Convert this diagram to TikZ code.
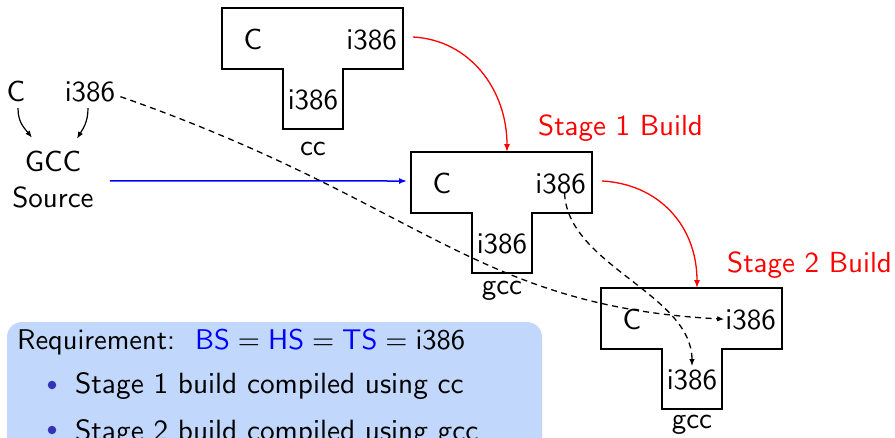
\documentclass[tikz,border=0pt]{standalone}
\usetikzlibrary{arrows.meta}
\definecolor{blockbg}{RGB}{193,216,252}
\definecolor{bulcol}{RGB}{51,51,179}
\font\fmain=cmss10 at 29pt
\font\fbul=cmss10 at 29.3pt
\font\freq=cmss10 at 28.5pt
\font\freqeq=cmr10 at 28.5pt
\newcommand\tdiag[5]{%
  \begin{scope}[shift={(#2,#3)}]
    \draw[tbox] (0,0) -- (181,0) -- (181,61) -- (121,61) -- (121,121) -- (61,121) -- (61,61) -- (0,61) -- cycle;
    \node[lbl,anchor=base] (#1-l) at (31,41) {C};
    \node[lbl,anchor=base east] (#1-r) at (175,41) {i386};
    \node[lbl,anchor=base] (#1-s) at (91,101) {i386};
    \node[lbl,anchor=base] (#1-n) at (91,#5) {#4};
    \coordinate (#1-top) at (96,0);
    \coordinate (#1-out) at (191,29);
    \coordinate (#1-in) at (-4,29);
  \end{scope}}
\newcommand\eqsp{\hspace{.28em}{\freqeq=}\hspace{.28em}}
\begin{document}
\begin{tikzpicture}[x=1pt,y=-1pt,
  lbl/.style={inner sep=0pt, font=\fmain},
  tbox/.style={draw, line width=1.6pt, line join=miter},
  redarr/.style={draw=red, line width=1.3pt, -{Latex[length=8pt,width=6pt]}},
  bluearr/.style={draw=blue, line width=1.5pt, -{Latex[length=8pt,width=6pt]}},
  blkarr/.style={line width=1.2pt, -{Latex[length=7pt,width=5.5pt]}},
  dasharr/.style={line width=1.3pt, dash pattern=on 6pt off 4.5pt, -{Latex[length=7pt,width=5.5pt]}},
  stagelbl/.style={inner sep=0pt, text=red, anchor=base west, font=\fmain},
  reqfont/.style={inner sep=0pt, anchor=base west, font=\freq},
  bulfont/.style={inner sep=0pt, anchor=base west, font=\fbul},
  bul/.style={circle, fill=bulcol, inner sep=0pt, minimum size=8.5pt}
]
\useasboundingbox (0,0) rectangle (895,437);
\clip (0,0) rectangle (895,437);

% T diagrams
\tdiag{cc}{222}{8}{cc}{147}
\tdiag{ga}{411}{152}{gcc}{142}
\tdiag{gb}{601}{288}{gcc}{140}

% left source
\node[lbl,anchor=base] (lC) at (16,101) {C};
\node[lbl,anchor=base] (lI) at (90,101) {i386};
\node[lbl,anchor=base] (src1) at (53,171) {GCC};
\node[lbl,anchor=base] (src2) at (53,207) {Source};

\draw[blkarr] ([shift={(2,7)}]lC.south) .. controls +(0,14) and +(-8,-10) .. ([shift={(-21,-13)}]src1.north);
\draw[blkarr] ([shift={(-2,7)}]lI.south) .. controls +(0,14) and +(6,-10) .. ([shift={(24,-12)}]src1.north);

% stage labels
\node[stagelbl] (st1) at (538,135) {Stage 1 Build};
\node[stagelbl] (st2) at (727,272) {Stage 2 Build};

% connectors
\draw[bluearr] ([shift={(16,-16)}]src2.east) -- (ga-in);
\draw[redarr] (cc-out) .. controls +(57,3) and +(0,-62) .. (ga-top);
\draw[redarr] (ga-out) .. controls +(57,3) and +(0,-62) .. (gb-top);
\draw[dasharr] ([shift={(5,5.5)}]lI.east) .. controls +(300,105) and +(-250,-13) .. ([xshift=-1pt]gb-r.west);
\draw[dasharr] ([xshift=4pt]ga-r.south) .. controls +(3,72) and +(0,-72) .. ([yshift=3pt]gb-s.north);

% requirement block
\path[fill=blockbg, rounded corners=15pt] (7,322) rectangle (542,480);
\node[reqfont] (req) at (17,349) {Requirement:\hspace{.7em}\textcolor{blue}{BS}\eqsp\textcolor{blue}{HS}\eqsp\textcolor{blue}{TS}\eqsp i386};
\node[bul] (d1) at (52,385) {};
\node[bulfont] (b1) at (75,393) {Stage 1 build compiled using cc};
\node[bul] (d2) at (52,430) {};
\node[bulfont] (b2) at (75,440) {Stage 2 build compiled using gcc};
\end{tikzpicture}
\end{document}
